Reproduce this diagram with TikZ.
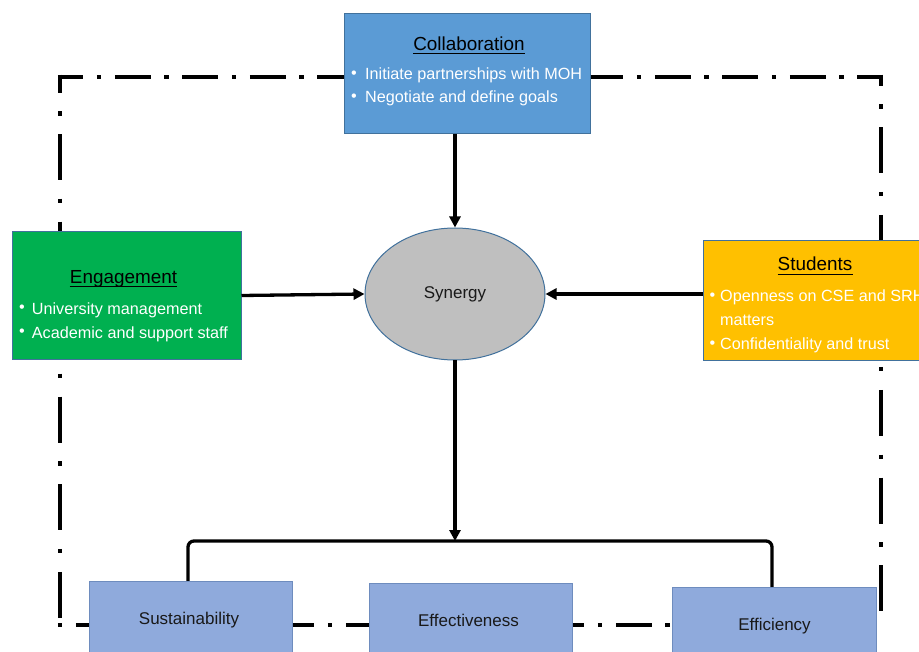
\documentclass[tikz,border=0pt]{standalone}
\usepackage{fontspec}
\setmainfont{Liberation Sans}
\usetikzlibrary{arrows.meta,shapes.geometric}
\definecolor{colfill}{RGB}{91,155,213}
\definecolor{engfill}{RGB}{0,176,80}
\definecolor{stufill}{RGB}{255,192,0}
\definecolor{synfill}{RGB}{191,191,191}
\definecolor{outfill}{RGB}{143,170,220}
\definecolor{edgeblue}{RGB}{65,113,156}
\definecolor{lightedge}{RGB}{110,140,190}
\newcommand\bul{\raisebox{1.5pt}{•}}
\tikzset{
  box/.style={draw=edgeblue, line width=1pt, rectangle, inner sep=0pt, anchor=north west},
  outbox/.style={draw=lightedge, line width=1pt, rectangle, inner sep=0pt, anchor=north west, fill=outfill},
  hdash/.style={line width=4.5pt, dash pattern=on 36pt off 13.5pt on 4.5pt off 13.5pt},
  vdash/.style={line width=4.5pt, dash pattern=on 46pt off 18.5pt on 4.5pt off 18.5pt},
  ttl/.style={font=\fontsize{18.9}{22}\selectfont, inner sep=0pt, anchor=base},
  itm/.style={font=\fontsize{16.2}{20}\selectfont, text=white, inner sep=0pt, anchor=base west},
  lbl/.style={font=\fontsize{17}{20}\selectfont, text={black!90}, inner sep=0pt, anchor=base},
  uline/.style={line width=1.3pt},
  conn/.style={line width=3.3pt, -{Triangle[length=11pt,width=11pt]}},
  brk/.style={line width=3.3pt, rounded corners=6pt}
}
\begin{document}
\begin{tikzpicture}[x=1pt,y=-1pt]
\useasboundingbox (0,0) rectangle (919,652);
\clip (0,0) rectangle (919,652);

% dash-dot frame
\draw[hdash, dash phase=10.5] (57.75,77) -- (883.25,77);
\draw[vdash, dash phase=28] (60,74.75) -- (60,627.25);
\draw[vdash, dash phase=34.75] (881,74.75) -- (881,627.25);
\draw[hdash, dash phase=49.5] (57.75,625) -- (883.25,625);

% boxes
\node[box, fill=colfill, minimum width=246pt, minimum height=120pt] (col) at (344,13) {};
\node[box, fill=engfill, minimum width=229pt, minimum height=128pt] (eng) at (11.5,231) {};
\node[box, fill=stufill, minimum width=240pt, minimum height=120pt] (stu) at (703,240) {};
\node[ellipse, draw=edgeblue, line width=1pt, fill=synfill, minimum width=180pt, minimum height=132pt, inner sep=0pt,
      font=\fontsize{17}{20}\selectfont, text={black!90}] (syn) at (455,294) {Synergy};

% bracket
\coordinate (bl) at (188,541);
\coordinate (brr) at (772,541);
\coordinate (br) at (455,541);
\draw[brk] (188,590) -- (bl) -- (brr) -- (772,590);

% bottom boxes
\node[outbox, minimum width=203pt, minimum height=90pt] (sus) at (88.5,581) {};
\node[outbox, minimum width=203pt, minimum height=90pt] (eff) at (368.5,583) {};
\node[outbox, minimum width=204pt, minimum height=90pt] (efc) at (672,587) {};
\node[lbl] (sust) at (189,624) {Sustainability};
\node[lbl] (efft) at (468.5,626) {Effectiveness};
\node[lbl] (efct) at (774.5,630) {Efficiency};

% connectors
\draw[conn] (syn.north |- col.south) -- (syn.north);
\draw[conn] (eng.east) -- (syn.west);
\draw[conn] (syn.east -| stu.west) -- (syn.east);
\draw[conn] (syn.south) -- (br);

% Collaboration text
\node[ttl] (colt) at (469,51) {Collaboration};
\draw[uline] ([yshift=-2.8pt]colt.base west) -- ([yshift=-2.8pt]colt.base east);
\node[itm] (col1) at (351,80) {\makebox[14pt][l]{\bul}Initiate partnerships with MOH};
\node[itm] (col2) at (351,103) {\makebox[14pt][l]{\bul}Negotiate and define goals};

% Engagement text
\node[ttl] (engt) at (123.5,283.3) {Engagement};
\draw[uline] ([yshift=-3.4pt]engt.base west) -- ([yshift=-3.4pt]engt.base east);
\node[itm] (eng1) at (19,314.3) {\makebox[12.7pt][l]{\bul}University management};
\node[itm] (eng2) at (19,338.3) {\makebox[12.7pt][l]{\bul}Academic and support staff};

% Students text
\node[ttl] (stut) at (815,271) {Students};
\draw[uline] ([yshift=-3.4pt]stut.base west) -- ([yshift=-3.4pt]stut.base east);
\node[itm] (stu1) at (709.5,301.7) {\makebox[10.5pt][l]{\bul}Openness on CSE and SRH};
\node[itm] (stu2) at (720,325.7) {matters};
\node[itm] (stu3) at (709.5,350) {\makebox[10.5pt][l]{\bul}Confidentiality and trust};
\end{tikzpicture}
\end{document}
